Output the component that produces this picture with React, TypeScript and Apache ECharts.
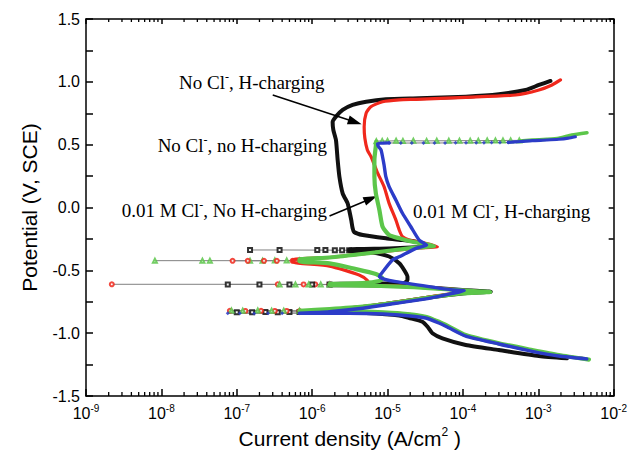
import React, { useEffect, useRef } from "react";
import * as echarts from "echarts";

type Pt = [number, number];

// ---- axes ----
const xMin = 1e-9;
const xMax = 1e-2;
const yMin = -1.5;
const yMax = 1.5;
const decadeExponents = [-9, -8, -7, -6, -5, -4, -3, -2];
const minorMantissas = [2, 3, 4, 5, 6, 7, 8, 9];

// ---- curves: [current density (A/cm2), potential (V, SCE)] in scan order ----
const blackCurve: Pt[] = [
  [2.4e-3, -1.2], [1.02e-3, -1.182], [3.0e-4, -1.134], [1.09e-4, -1.094], [5.35e-5, -1.041],
  [3.94e-5, -1.001], [3.4e-5, -0.949], [2.9e-5, -0.909], [1.94e-5, -0.879], [1.43e-5, -0.859],
  [5.2e-6, -0.84], [1.9e-6, -0.832], [6.8e-7, -0.832], [1.7e-6, -0.816], [4.7e-6, -0.792],
  [1.29e-5, -0.756], [3.56e-5, -0.716], [9.8e-5, -0.684], [2.34e-4, -0.67], [9.8e-5, -0.656],
  [3.56e-5, -0.637], [1.43e-5, -0.625], [4.7e-6, -0.619], [1.7e-6, -0.617], [1.7e-6, -0.609],
  [7.8e-6, -0.605], [1.66e-5, -0.601], [1.84e-5, -0.577], [1.84e-5, -0.551], [1.66e-5, -0.497],
  [1.43e-5, -0.444], [1.05e-5, -0.39], [6.3e-6, -0.358], [3.1e-6, -0.346], [3.1e-6, -0.334],
  [1.05e-5, -0.326], [2.9e-5, -0.314], [3.56e-5, -0.31], [2.38e-5, -0.272], [1.58e-5, -0.259],
  [9.5e-6, -0.245], [4.7e-6, -0.219], [3.6e-6, -0.195], [3.44e-6, -0.163], [3.3e-6, -0.099],
  [3.1e-6, -0.02], [2.96e-6, 0.033], [2.54e-6, 0.113], [2.3e-6, 0.245], [2.18e-6, 0.378],
  [2.07e-6, 0.537], [1.91e-6, 0.617], [1.87e-6, 0.68], [2.07e-6, 0.723], [2.54e-6, 0.776],
  [3.44e-6, 0.816], [5.2e-6, 0.842], [9.5e-6, 0.861], [2.63e-5, 0.869], [1.09e-4, 0.882],
  [3.0e-4, 0.901], [6.8e-4, 0.935], [1.02e-3, 0.975], [1.45e-3, 1.007],
];

const redCurve: Pt[] = [
  [4.0e-3, -1.202], [1.87e-3, -1.178], [8.3e-4, -1.138], [3.0e-4, -1.082], [1.09e-4, -1.019],
  [6.6e-5, -0.951], [4.8e-5, -0.911], [3.2e-5, -0.871], [1.43e-5, -0.843], [5.2e-6, -0.832],
  [1.9e-6, -0.824], [6.8e-7, -0.824], [1.7e-6, -0.812], [4.7e-6, -0.788], [1.29e-5, -0.752],
  [3.56e-5, -0.712], [8.7e-5, -0.68], [1.64e-4, -0.67], [8.7e-5, -0.656], [3.56e-5, -0.637],
  [1.43e-5, -0.625], [4.7e-6, -0.619], [1.7e-6, -0.615], [1.7e-6, -0.609], [3.6e-6, -0.611],
  [5.7e-6, -0.613], [5.4e-6, -0.58], [4.2e-6, -0.537], [1.7e-6, -0.466], [5.5e-7, -0.434],
  [5.5e-7, -0.414], [1.7e-6, -0.398], [5.2e-6, -0.366], [1.43e-5, -0.338], [2.63e-5, -0.322],
  [4.6e-5, -0.312], [3.1e-5, -0.283], [1.94e-5, -0.259], [1.58e-5, -0.232], [1.43e-5, -0.179],
  [1.29e-5, -0.099], [1.05e-5, 0.033], [9.0e-6, 0.166], [7.3e-6, 0.282], [6.1e-6, 0.4],
  [5.4e-6, 0.458], [5.0e-6, 0.553], [4.9e-6, 0.643], [5.2e-6, 0.75], [6.0e-6, 0.802],
  [8.6e-6, 0.842], [1.43e-5, 0.857], [2.38e-5, 0.861], [1.09e-4, 0.877], [5.0e-4, 0.895],
  [1.02e-3, 0.935], [1.52e-3, 0.975], [1.97e-3, 1.015],
];

const greenCurve: Pt[] = [
  [4.7e-3, -1.21], [1.87e-3, -1.174], [8.3e-4, -1.134], [3.0e-4, -1.081], [1.09e-4, -1.015],
  [6.6e-5, -0.949], [4.8e-5, -0.909], [3.2e-5, -0.869], [1.43e-5, -0.842], [5.2e-6, -0.829],
  [1.9e-6, -0.821], [6.8e-7, -0.822], [1.7e-6, -0.808], [4.7e-6, -0.788], [1.29e-5, -0.756],
  [3.56e-5, -0.716], [9.8e-5, -0.684], [2.3e-4, -0.672], [9.8e-5, -0.66], [3.56e-5, -0.641],
  [1.43e-5, -0.629], [4.7e-6, -0.621], [1.7e-6, -0.617], [1.7e-6, -0.609], [4.7e-6, -0.601],
  [7.8e-6, -0.585], [8.6e-6, -0.565], [7.0e-6, -0.529], [3.44e-6, -0.484], [1.7e-6, -0.444],
  [6.8e-7, -0.43], [6.8e-7, -0.414], [1.7e-6, -0.398], [5.2e-6, -0.366], [1.43e-5, -0.334],
  [2.63e-5, -0.318], [4.15e-5, -0.306], [3.2e-5, -0.29], [2.14e-5, -0.272], [1.43e-5, -0.245],
  [1.05e-5, -0.219], [8.6e-6, -0.153], [7.8e-6, -0.02], [7.0e-6, 0.113], [6.7e-6, 0.245],
  [6.7e-6, 0.378], [7.0e-6, 0.49], [7.1e-6, 0.524],
];
const greenPitting: Pt[] = [
  [5.6e-4, 0.53], [8.3e-4, 0.537], [1.3e-3, 0.543], [1.87e-3, 0.551], [2.78e-3, 0.577], [4.43e-3, 0.595],
];

const blueCurve: Pt[] = [
  [4.4e-3, -1.205], [1.87e-3, -1.182], [8.3e-4, -1.145], [3.0e-4, -1.086], [1.09e-4, -1.023],
  [6.6e-5, -0.959], [4.8e-5, -0.919], [3.2e-5, -0.879], [1.43e-5, -0.855], [5.2e-6, -0.843],
  [1.9e-6, -0.842], [6.8e-7, -0.842], [1.7e-6, -0.829], [4.7e-6, -0.802], [1.29e-5, -0.762],
  [3.56e-5, -0.723], [7.3e-5, -0.684], [1.04e-4, -0.662], [7.3e-5, -0.656], [3.56e-5, -0.63],
  [1.29e-5, -0.59], [9.0e-6, -0.569], [7.8e-6, -0.549], [8.2e-6, -0.529], [1.16e-5, -0.418],
  [1.43e-5, -0.392], [2.38e-5, -0.325], [3.3e-5, -0.298], [2.63e-5, -0.259], [2.04e-5, -0.153],
  [1.58e-5, -0.046], [1.29e-5, 0.06], [1.05e-5, 0.166], [9.5e-6, 0.245], [9.0e-6, 0.338],
  [8.6e-6, 0.402], [8.2e-6, 0.458], [7.5e-6, 0.49], [7.4e-6, 0.511], [1.05e-5, 0.514],
];
const bluePitting: Pt[] = [
  [4.0e-4, 0.518], [6.0e-4, 0.525], [8.3e-4, 0.532], [1.3e-3, 0.537], [1.87e-3, 0.543], [2.5e-3, 0.552], [3.1e-3, 0.563],
];

// ---- sparse sweeps through zero current (thin grey line with markers) ----
const blackSweepEcorr: Pt[] = [[1.0e-7, -0.833], [1.6e-7, -0.833], [2.4e-7, -0.832], [3.5e-7, -0.833], [5.0e-7, -0.832], [6.8e-7, -0.832]];
const redSweepEcorr: Pt[] = [[8.1e-8, -0.822], [1.3e-7, -0.823], [2.1e-7, -0.822], [3.2e-7, -0.823], [4.6e-7, -0.823], [6.8e-7, -0.824]];
const greenSweepEcorr: Pt[] = [[8.5e-8, -0.82], [1.2e-7, -0.821], [1.9e-7, -0.82], [2.9e-7, -0.821], [4.2e-7, -0.821], [6.8e-7, -0.822]];
const blueSweepEcorr: Pt[] = [[7.6e-8, -0.842], [1.1e-7, -0.842], [1.7e-7, -0.843], [2.6e-7, -0.842], [4.0e-7, -0.842], [6.8e-7, -0.842]];
const redSweep061: Pt[] = [[2.2e-9, -0.611], [3.5e-7, -0.611], [7.7e-7, -0.612], [1.1e-6, -0.612], [1.7e-6, -0.612]];
const blackSweep061: Pt[] = [[7.6e-8, -0.612], [2.0e-7, -0.612], [5.0e-7, -0.613], [1.0e-6, -0.613], [1.7e-6, -0.613]];
const greenSweep061: Pt[] = [[3.7e-7, -0.613], [6.0e-7, -0.613], [9.0e-7, -0.613], [1.3e-6, -0.613], [1.7e-6, -0.613]];
const greenSweep042: Pt[] = [[8.2e-9, -0.423], [3.5e-8, -0.423], [4.4e-8, -0.423], [1.5e-7, -0.423], [2.2e-7, -0.423], [3.2e-7, -0.422], [4.6e-7, -0.422], [6.8e-7, -0.422]];
const redSweep042: Pt[] = [[8.8e-8, -0.424], [1.4e-7, -0.424], [2.3e-7, -0.424], [3.4e-7, -0.424], [5.5e-7, -0.424]];
const blackSweep034: Pt[] = [[1.5e-7, -0.338], [3.7e-7, -0.338], [1.17e-6, -0.339], [1.5e-6, -0.339], [2.0e-6, -0.34], [2.5e-6, -0.34], [3.1e-6, -0.34]];
const greenPassiveBreak: Pt[] = [
  [7.1e-6, 0.528], [8.5e-6, 0.53], [1.0e-5, 0.529], [1.3e-5, 0.531], [1.6e-5, 0.53], [2.2e-5, 0.531],
  [3.3e-5, 0.53], [4.5e-5, 0.531], [6.5e-5, 0.531], [9.0e-5, 0.532], [1.25e-4, 0.532], [1.6e-4, 0.532],
  [2.1e-4, 0.533], [2.7e-4, 0.533], [3.4e-4, 0.533], [4.3e-4, 0.534], [5.6e-4, 0.534],
];
const bluePassiveBreak: Pt[] = [
  [1.05e-5, 0.514], [1.5e-5, 0.513], [2.1e-5, 0.513], [3.0e-5, 0.514], [4.2e-5, 0.513], [5.8e-5, 0.514],
  [8.0e-5, 0.515], [1.1e-4, 0.515], [1.5e-4, 0.516], [1.9e-4, 0.516], [2.4e-4, 0.517], [3.1e-4, 0.517], [4.0e-4, 0.518],
];

// ---- annotation arrows (data coordinates) ----
const arrowHCharging: Pt[] = [[3.0e-7, 0.895], [3.7e-6, 0.68]];
const arrowClNoH: Pt[] = [[1.7e-6, -0.068], [6.0e-6, 0.07]];

const SANS = "'Liberation Sans', Arial, Helvetica, sans-serif";
const SERIF = "'Liberation Serif', 'Times New Roman', serif";

const COLORS = {
  black: "#111111",
  red: "#f0281c",
  green: "#5cc64a",
  blue: "#2c3cc8",
};

export default function App() {
  const ref = useRef<HTMLDivElement>(null);

  useEffect(() => {
    if (!ref.current) return;
    const chart = echarts.init(ref.current, null, { renderer: "svg" });

    // log minor tick positions (2..9 x 10^n)
    const minorTickValues: number[][] = [];
    decadeExponents.slice(0, -1).forEach((e) =>
      minorMantissas.forEach((m) => minorTickValues.push([m * Math.pow(10, e), 0]))
    );

    const dense = (data: Pt[], color: string, width: number, z: number, extra: any = {}) => ({
      type: "line",
      data,
      showSymbol: false,
      smooth: 0.2,
      lineStyle: { color, width, cap: "round", join: "round" },
      itemStyle: { color },
      z,
      silent: true,
      ...extra,
    });
    const sparse = (data: Pt[], color: string, symbol: string) => ({
      type: "line",
      data,
      showSymbol: true,
      showAllSymbol: true,
      symbol,
      symbolSize: 4,
      lineStyle: { color: "#808080", width: 1 },
      itemStyle: { color, borderWidth: 1, opacity: 0.85 },
      z: 2,
      silent: true,
    });

    const superRich = {
      t: { fontFamily: SERIF, fontSize: 19, color: "#000", lineHeight: 22 },
      s: { fontFamily: SERIF, fontSize: 12, color: "#000", lineHeight: 12, verticalAlign: "top" },
    };

    const tickStyle = { color: "#000", width: 1.5 };

    const option: any = {
      animation: false,
      grid: { left: 86, right: 15, top: 19, bottom: 64 },
      xAxis: [
        {
          type: "log",
          logBase: 10,
          min: xMin,
          max: xMax,
          position: "bottom",
          axisLine: { show: true, onZero: false, lineStyle: { color: "#000", width: 1.5 } },
          axisTick: { show: true, inside: true, length: 7, lineStyle: tickStyle },
          splitLine: { show: false },
          axisLabel: {
            margin: 7,
            formatter: (v: number) => `{b|10}{s|${Math.round(Math.log10(v))}}`,
            rich: {
              b: { fontFamily: SANS, fontSize: 16, color: "#000", lineHeight: 20 },
              s: { fontFamily: SANS, fontSize: 10, color: "#000", lineHeight: 10, verticalAlign: "top" },
            },
          },
          name: "{a|Current density (A/cm}{s|2}{a| )}",
          nameLocation: "middle",
          nameGap: 30,
          nameTextStyle: {
            rich: {
              a: { fontFamily: SANS, fontSize: 21, color: "#000", lineHeight: 24 },
              s: { fontFamily: SANS, fontSize: 12, color: "#000", lineHeight: 12, verticalAlign: "top" },
            },
          },
        },
        {
          type: "log",
          logBase: 10,
          min: xMin,
          max: xMax,
          position: "top",
          axisLine: { show: true, onZero: false, lineStyle: { color: "#000", width: 1.5 } },
          axisTick: { show: true, inside: true, length: 5, lineStyle: tickStyle },
          axisLabel: { show: false },
          splitLine: { show: false },
        },
      ],
      yAxis: [
        {
          type: "value",
          min: yMin,
          max: yMax,
          interval: 0.5,
          position: "left",
          axisLine: { show: true, onZero: false, lineStyle: { color: "#000", width: 1.5 } },
          axisTick: { show: true, inside: true, length: 7, lineStyle: tickStyle },
          minorTick: { show: true, splitNumber: 2, length: 7, lineStyle: tickStyle },
          splitLine: { show: false },
          axisLabel: {
            margin: 6,
            fontFamily: SANS,
            fontSize: 16,
            color: "#000",
            formatter: (v: number) => v.toFixed(1),
          },
          name: "Potential (V, SCE)",
          nameLocation: "middle",
          nameGap: 46,
          nameRotate: 90,
          nameTextStyle: { fontFamily: SANS, fontSize: 21, color: "#000" },
        },
        {
          type: "value",
          min: yMin,
          max: yMax,
          interval: 0.25,
          position: "right",
          axisLine: { show: true, onZero: false, lineStyle: { color: "#000", width: 1.5 } },
          axisTick: { show: true, inside: true, length: 5, lineStyle: tickStyle },
          axisLabel: { show: false },
          splitLine: { show: false },
        },
      ],
      series: [
        {
          type: "custom",
          clip: false,
          z: 10,
          data: minorTickValues,
          renderItem: (_params: any, api: any) => {
            const x = api.value(0);
            const pb = api.coord([x, yMin]);
            const pt = api.coord([x, yMax]);
            return {
              type: "group",
              children: [
                { type: "line", shape: { x1: pb[0], y1: pb[1], x2: pb[0], y2: pb[1] - 4 }, style: { stroke: "#000", lineWidth: 1.3 } },
                { type: "line", shape: { x1: pt[0], y1: pt[1], x2: pt[0], y2: pt[1] + 3 }, style: { stroke: "#000", lineWidth: 1.3 } },
              ],
            };
          },
        },
        sparse(blackSweepEcorr, COLORS.black, "emptyRect"),
        sparse(redSweepEcorr, COLORS.red, "emptyCircle"),
        sparse(greenSweepEcorr, COLORS.green, "emptyTriangle"),
        sparse(blueSweepEcorr, COLORS.blue, "diamond"),
        sparse(redSweep061, COLORS.red, "emptyCircle"),
        sparse(blackSweep061, COLORS.black, "emptyRect"),
        sparse(greenSweep061, COLORS.green, "emptyTriangle"),
        sparse(greenSweep042, COLORS.green, "emptyTriangle"),
        sparse(redSweep042, COLORS.red, "emptyCircle"),
        sparse(blackSweep034, COLORS.black, "emptyRect"),
        sparse(greenPassiveBreak, COLORS.green, "emptyTriangle"),
        sparse(bluePassiveBreak, COLORS.blue, "diamond"),
        dense(blackCurve, COLORS.black, 4, 3, {
          markLine: {
            silent: true,
            animation: false,
            symbol: ["none", "triangle"],
            symbolSize: [9, 14],
            lineStyle: { color: "#000", width: 1.5, type: "solid" },
            label: { show: false },
            emphasis: { disabled: true },
            data: [
              [{ coord: arrowHCharging[0] }, { coord: arrowHCharging[1] }],
              [{ coord: arrowClNoH[0] }, { coord: arrowClNoH[1] }],
            ],
          },
        }),
        dense(redCurve, COLORS.red, 3.2, 4),
        dense(greenCurve, COLORS.green, 4.2, 5),
        dense(greenPitting, COLORS.green, 3.5, 5),
        dense(blueCurve, COLORS.blue, 3.4, 6),
        dense(bluePitting, COLORS.blue, 3.2, 6),
      ],
      graphic: [
        {
          type: "text",
          x: 179,
          y: 82,
          style: { text: "{t|No Cl}{s|-}{t|, H-charging}", rich: superRich, align: "left", verticalAlign: "middle" },
        },
        {
          type: "text",
          x: 327,
          y: 145,
          style: { text: "{t|No Cl}{s|-}{t|, no H-charging}", rich: superRich, align: "right", verticalAlign: "middle" },
        },
        {
          type: "text",
          x: 327,
          y: 210,
          style: { text: "{t|0.01 M Cl}{s|-}{t|, No H-charging}", rich: superRich, align: "right", verticalAlign: "middle" },
        },
        {
          type: "text",
          x: 413,
          y: 211,
          style: { text: "{t|0.01 M Cl}{s|-}{t|, H-charging}", rich: superRich, align: "left", verticalAlign: "middle" },
        },
      ],
    };

    chart.setOption(option);
    return () => chart.dispose();
  }, []);

  return (
    <div
      ref={ref}
      style={{ position: "absolute", left: 0, top: 0, width: 630, height: 460, background: "#fff" }}
    />
  );
}
